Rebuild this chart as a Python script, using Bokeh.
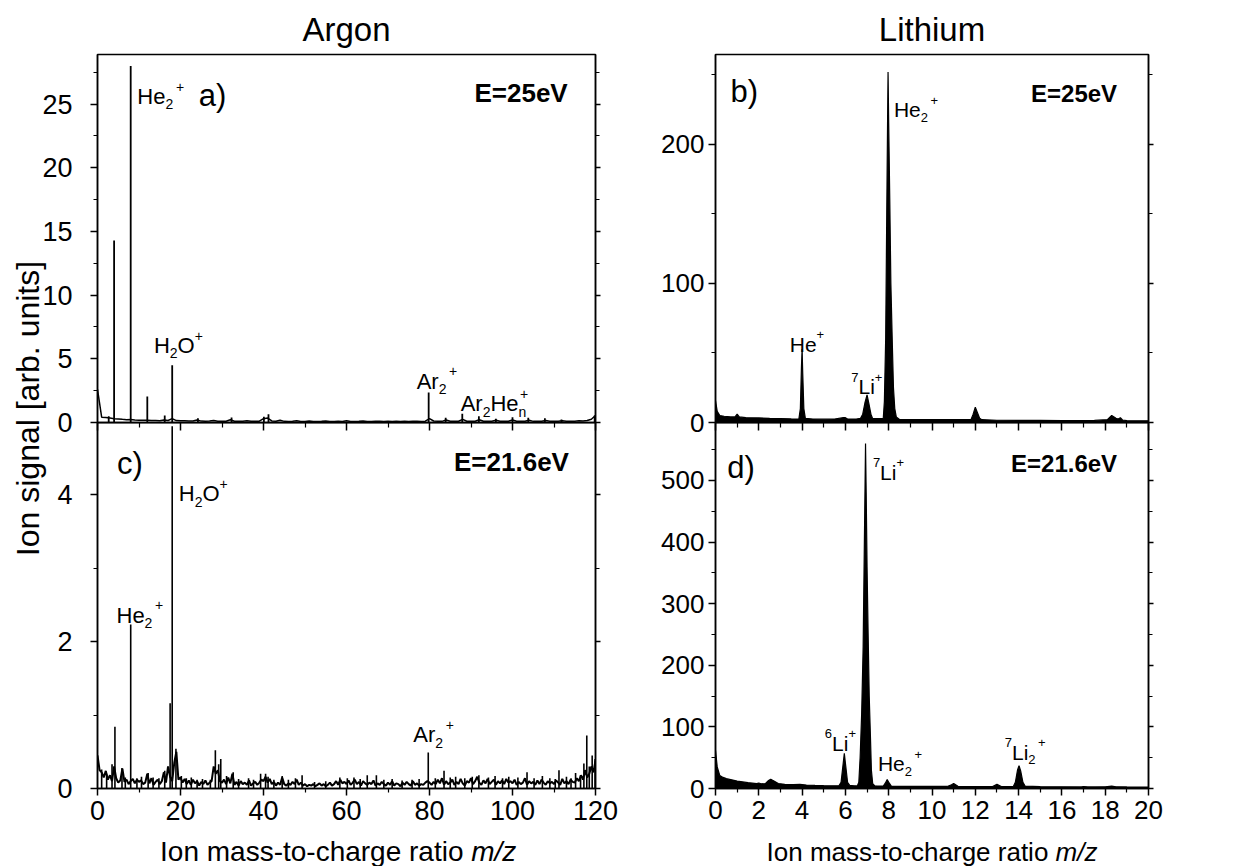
import numpy as np
from bokeh.plotting import figure
from bokeh.models import Range1d, FixedTicker, LinearAxis, Label, ColumnDataSource
from bokeh.layouts import row, column
from bokeh.embed import file_html
from bokeh.resources import INLINE
from bokeh.core.properties import value

FONT = "Liberation Sans"

# ------------------------------------------------------------------ data
# Panel a) Argon, E = 25 eV : baseline sampled every 1 m/z (0..120)
argon25_baseline = [
    2.6, 0.42, 0.40, 0.35, 0.30, 0.28, 0.25, 0.22, 0.24, 0.20,
    0.18, 0.17, 0.18, 0.15, 0.15, 0.14, 0.20, 0.16, 0.30, 0.15,
    0.14, 0.13, 0.12, 0.12, 0.20, 0.11, 0.10, 0.11, 0.16, 0.10,
    0.10, 0.10, 0.22, 0.10, 0.09, 0.10, 0.14, 0.09, 0.09, 0.10,
    0.30, 0.35, 0.12, 0.10, 0.18, 0.09, 0.08, 0.09, 0.14, 0.08,
    0.08, 0.12, 0.08, 0.08, 0.09, 0.12, 0.08, 0.08, 0.09, 0.08,
    0.14, 0.08, 0.08, 0.09, 0.12, 0.08, 0.08, 0.10, 0.09, 0.08,
    0.09, 0.08, 0.10, 0.08, 0.09, 0.08, 0.10, 0.09, 0.08, 0.10,
    0.30, 0.12, 0.10, 0.09, 0.20, 0.10, 0.09, 0.10, 0.25, 0.10,
    0.09, 0.10, 0.22, 0.10, 0.09, 0.10, 0.18, 0.10, 0.09, 0.10,
    0.20, 0.10, 0.09, 0.10, 0.18, 0.09, 0.10, 0.09, 0.16, 0.10,
    0.09, 0.10, 0.14, 0.09, 0.10, 0.10, 0.13, 0.12, 0.15, 0.25,
    0.55,
]
argon25_peak_mz = [2.7, 4.0, 8.0, 12.0, 16.2, 18.0, 24.2, 32.3, 40.1, 41.2,
                   79.8, 83.9, 87.9, 91.9, 96.0, 100.0, 103.8, 107.8, 111.8, 119.8]
argon25_peak_h = [0.5, 14.3, 28.0, 2.05, 0.55, 4.5, 0.34, 0.39, 0.45, 0.65,
                  2.35, 0.37, 0.68, 0.5, 0.29, 0.42, 0.37, 0.34, 0.24, 0.55]

# Panel c) Argon, E = 21.6 eV : baseline sampled every 0.5 m/z (0..120)
argon216_baseline = [
    0.45, 0.25, 0.22, 0.15, 0.24, 0.12, 0.18, 0.10, 0.30, 0.14, 0.08, 0.11, 0.27, 0.09, 0.12, 0.06, 0.10, 0.13, 0.07, 0.12,
    0.09, 0.11, 0.06, 0.08, 0.20, 0.07, 0.14, 0.05, 0.09, 0.12, 0.06, 0.10, 0.22, 0.08, 0.30, 0.16, 0.10, 0.35, 0.50, 0.12,
    0.15, 0.08, 0.13, 0.06, 0.11, 0.05, 0.12, 0.07, 0.10, 0.04, 0.09, 0.06, 0.11, 0.05, 0.08, 0.10, 0.30, 0.20, 0.25, 0.10,
    0.08, 0.12, 0.06, 0.15, 0.07, 0.20, 0.05, 0.09, 0.04, 0.10, 0.06, 0.08, 0.05, 0.11, 0.04, 0.07, 0.09, 0.05, 0.08, 0.12,
    0.10, 0.16, 0.08, 0.13, 0.06, 0.09, 0.04, 0.08, 0.05, 0.15, 0.06, 0.04, 0.07, 0.05, 0.09, 0.06, 0.12, 0.05, 0.08, 0.04,
    0.06, 0.03, 0.05, 0.04, 0.06, 0.03, 0.05, 0.07, 0.04, 0.06, 0.03, 0.05, 0.08, 0.04, 0.06, 0.10, 0.05, 0.12, 0.07, 0.09,
    0.06, 0.11, 0.05, 0.08, 0.12, 0.06, 0.09, 0.04, 0.10, 0.07, 0.05, 0.08, 0.06, 0.11, 0.04, 0.07, 0.05, 0.09, 0.06, 0.04,
    0.08, 0.05, 0.10, 0.04, 0.07, 0.06, 0.03, 0.08, 0.05, 0.09, 0.06, 0.04, 0.10, 0.05, 0.07, 0.04, 0.06, 0.05, 0.08, 0.10,
    0.08, 0.05, 0.09, 0.06, 0.12, 0.07, 0.14, 0.05, 0.10, 0.06, 0.08, 0.12, 0.05, 0.09, 0.06, 0.13, 0.07, 0.04, 0.10, 0.08,
    0.14, 0.06, 0.10, 0.16, 0.08, 0.05, 0.11, 0.07, 0.13, 0.06, 0.09, 0.12, 0.05, 0.10, 0.07, 0.11, 0.06, 0.13, 0.08, 0.10,
    0.07, 0.12, 0.05, 0.09, 0.06, 0.08, 0.14, 0.05, 0.10, 0.07, 0.09, 0.05, 0.11, 0.06, 0.12, 0.08, 0.05, 0.10, 0.07, 0.09,
    0.06, 0.11, 0.08, 0.05, 0.13, 0.07, 0.10, 0.06, 0.12, 0.09, 0.08, 0.14, 0.10, 0.18, 0.12, 0.25, 0.15, 0.20, 0.30, 0.22,
    0.38,
]
argon216_peak_mz = [1.0, 2.2, 3.5, 4.2, 5.9, 6.7, 8.0, 9.5, 10.6, 12.2, 13.4, 14.8, 16.2, 17.5, 18.0, 18.9,
                    20.2, 21.4, 22.6, 24.0, 25.3, 27.2, 28.4, 29.2, 29.7, 31.1, 32.7, 34.0, 36.4, 37.6,
                    39.3, 40.5, 41.1, 42.5, 44.5, 46.0, 47.7, 49.3, 52.3, 55.0, 58.4, 60.2, 61.8, 63.3,
                    65.0, 67.2, 69.0, 71.0, 73.4, 75.8, 77.5, 79.7, 81.4, 83.5, 85.0, 86.3, 88.5, 90.3,
                    91.9, 94.2, 95.8, 97.6, 99.1, 101.3, 103.5, 105.2, 107.2, 109.0, 110.3, 111.2, 113.0,
                    114.1, 115.2, 116.4, 117.2, 117.9, 118.5, 119.2, 119.9]
argon216_peak_h = [0.26, 0.20, 0.33, 0.84, 0.28, 0.15, 2.23, 0.14, 0.16, 0.21, 0.15, 0.14, 0.24, 1.16, 4.93, 0.54,
                   0.17, 0.14, 0.15, 0.12, 0.13, 0.12, 0.52, 0.33, 0.40, 0.17, 0.22, 0.13, 0.14, 0.12,
                   0.20, 0.20, 0.16, 0.12, 0.17, 0.12, 0.14, 0.18, 0.09, 0.10, 0.15, 0.14, 0.15, 0.13,
                   0.18, 0.18, 0.12, 0.13, 0.11, 0.12, 0.13, 0.49, 0.14, 0.24, 0.15, 0.16, 0.14, 0.16,
                   0.18, 0.15, 0.17, 0.14, 0.16, 0.15, 0.22, 0.14, 0.17, 0.14, 0.13, 0.25, 0.16,
                   0.14, 0.21, 0.18, 0.34, 0.72, 0.30, 0.45, 0.40]

# Panel b) Lithium, E = 25 eV
lithium25_mz = [0.0, 0.08, 0.2, 0.4, 0.7, 0.9, 1.0, 1.1, 1.4, 2.0, 2.5, 3.0, 3.5, 3.85, 3.92, 3.97, 4.0,
                4.03, 4.08, 4.15, 4.5, 5.0, 5.5, 5.9, 6.0, 6.1, 6.5, 6.7, 6.8, 6.9, 7.0, 7.08, 7.18, 7.25,
                7.5, 7.7, 7.75, 7.8, 7.86, 7.91, 7.95, 7.97, 8.0, 8.05, 8.1, 8.17, 8.22, 8.28, 8.35, 8.5,
                9.0, 10.0, 11.0, 11.8, 11.9, 12.0, 12.1, 12.2, 12.3, 13.0, 14.0, 15.0, 16.0, 17.0, 17.5,
                18.1, 18.3, 18.5, 18.6, 18.7, 18.8, 19.0, 19.5, 20.0]
lithium25_signal = [15.8, 8.0, 5.0, 4.5, 4.0, 4.0, 6.0, 4.0, 3.5, 3.3, 3.0, 2.8, 2.6, 2.5, 10.0, 40.0, 52.8,
                    35.0, 10.0, 3.0, 2.5, 2.4, 2.5, 3.5, 3.5, 2.5, 2.5, 3.0, 6.0, 14.0, 19.8, 14.0, 6.0, 3.0,
                    2.8, 2.8, 3.0, 15.0, 60.0, 150.0, 220.0, 252.0, 215.0, 160.0, 100.0, 55.0, 25.0, 10.0, 4.0, 2.2,
                    2.0, 2.0, 2.0, 2.0, 6.0, 11.0, 7.0, 3.0, 2.0, 1.6, 1.5, 1.5, 1.4, 1.4, 1.5,
                    2.0, 5.0, 3.0, 2.5, 3.5, 1.8, 1.3, 1.2, 1.2]

# Panel d) Lithium, E = 21.6 eV
lithium216_mz = [0.0, 0.08, 0.2, 0.35, 0.5, 0.75, 1.0, 1.5, 1.9, 2.0, 2.1, 2.3, 2.45, 2.55, 2.7, 2.9, 3.2,
                 3.6, 3.9, 4.2, 4.6, 5.0, 5.5, 5.7, 5.8, 5.88, 5.95, 6.02, 6.1, 6.2, 6.4, 6.55, 6.62, 6.68,
                 6.75, 6.82, 6.87, 6.91, 6.93, 6.96, 7.0, 7.05, 7.1, 7.16, 7.2, 7.26, 7.35, 7.5, 7.75, 7.85,
                 7.93, 8.02, 8.12, 8.5, 9.0, 10.0, 10.7, 10.9, 11.0, 11.2, 12.0, 12.8, 13.0, 13.2, 13.75,
                 13.85, 13.95, 14.02, 14.1, 14.2, 14.3, 15.0, 16.0, 16.9, 17.0, 17.2, 17.5, 18.0, 18.3,
                 18.5, 19.0, 20.0]
lithium216_signal = [62, 35, 21, 18, 16, 14, 12, 9.5, 8, 9, 7.6, 8, 13, 15, 12, 8, 6.8,
                     6.2, 6.8, 5.6, 5.0, 4.6, 4.3, 4.5, 10, 35, 57, 35, 10, 5, 4.3, 4.2, 10, 50,
                     120, 230, 380, 500, 560, 480, 360, 250, 150, 80, 30, 8, 4.5, 4.0, 4.0, 9,
                     14.6, 9, 4, 3.6, 3.4, 3.3, 3.3, 6, 8, 3.5, 3.2, 3.2, 7, 3.2, 3.0,
                     10, 30, 37, 28, 10, 4, 3.0, 2.8, 2.6, 3.2, 2.6, 2.6, 2.8, 4.0,
                     2.8, 2.6, 2.4]

# ticks
argon_x_major = [0, 20, 40, 60, 80, 100, 120]
argon_x_minor = [10, 30, 50, 70, 90, 110]
lith_x_major = [0, 2, 4, 6, 8, 10, 12, 14, 16, 18, 20]
lith_x_minor = [1, 3, 5, 7, 9, 11, 13, 15, 17, 19]
a_y_major = [0, 5, 10, 15, 20, 25]
a_y_minor = [2.5, 7.5, 12.5, 17.5, 22.5, 27.5]
b_y_major = [0, 100, 200]
b_y_minor = [50, 150, 250]
c_y_major = [0, 2, 4]
c_y_minor = [1, 3]
d_y_major = [0, 100, 200, 300, 400, 500]
d_y_minor = [50, 150, 250, 350, 450, 550]

assert len(argon25_baseline) == 121 and len(argon216_baseline) == 241
assert len(argon25_peak_mz) == len(argon25_peak_h)
assert len(argon216_peak_mz) == len(argon216_peak_h)
assert len(lithium25_mz) == len(lithium25_signal)
assert len(lithium216_mz) == len(lithium216_signal)

argon25_mz = np.arange(len(argon25_baseline)) * 1.0
argon216_mz = np.arange(len(argon216_baseline)) * 0.5

# ------------------------------------------------------------------ helpers
ADV = {'H': 722, 'e': 556, 'O': 778, 'A': 667, 'r': 333, 'L': 556, 'i': 222, 'n': 556, '+': 584,
       ' ': 278, 'I': 278, 'o': 556, 'm': 833, 'a': 556, 's': 500, '-': 333, 't': 278, 'c': 500,
       'h': 556, 'g': 556, '/': 278, 'z': 500}


def text_w(s, size):
    return sum(ADV.get(ch, 556) for ch in s) * size / 1000.0


def base_fig(w, h, xr, yr, bl, br, bt, bb):
    p = figure(width=w, height=h, x_range=xr, y_range=Range1d(*yr),
               output_backend="svg", toolbar_location=None, tools="",
               min_border_left=bl, min_border_right=br, min_border_top=bt, min_border_bottom=bb)
    p.xgrid.visible = False
    p.ygrid.visible = False
    p.background_fill_alpha = 0
    p.border_fill_alpha = 0
    p.outline_line_color = "black"
    p.outline_line_width = 1.5
    p.outline_line_alpha = 1.0
    return p


def style_axis(ax, ticks, minor, size, standoff, mj_out=7, mn_out=4, labels=True):
    ax.ticker = FixedTicker(ticks=ticks, minor_ticks=minor)
    ax.axis_line_color = "black"
    ax.axis_line_width = 1.5
    ax.major_tick_line_color = "black"
    ax.minor_tick_line_color = "black"
    ax.major_tick_line_width = 1.5
    ax.minor_tick_line_width = 1.2
    ax.major_tick_in = 0
    ax.minor_tick_in = 0
    ax.major_tick_out = mj_out
    ax.minor_tick_out = mn_out
    ax.major_label_standoff = standoff
    ax.major_label_text_font = FONT
    ax.major_label_text_color = "black"
    if labels:
        ax.major_label_text_font_size = f"{size}px"
    else:
        ax.major_label_text_font_size = "0px"
        ax.major_label_overrides = {t: "" for t in ticks}


def add_right_axis(p, ticks, minor):
    ax = LinearAxis()
    style_axis(ax, ticks, minor, 0, 0, mj_out=5, mn_out=4, labels=False)
    p.add_layout(ax, "right")


def add_peak_labels(p, specs, size, small):
    d = dict(x=[], y=[], text=[], xo=[], yo=[], fs=[])
    for (x, y, segs) in specs:
        cur = 0.0
        prev_start = 0.0
        prev_role = None
        for t, role in segs:
            if role == "n":
                f, dy, start = size, 0.0, cur
            elif role == "b":
                f, dy, start = small, 0.36 * size, cur
            elif role == "p":
                f, dy = small, -0.45 * size
                start = cur + (0.12 * size if prev_role == "b" else 0.0)
            else:  # "q": superscript stacked over the preceding subscript
                f, dy, start = small, -0.45 * size, prev_start + 0.1 * small
            d["x"].append(x)
            d["y"].append(y)
            d["text"].append(t)
            d["xo"].append(start)
            d["yo"].append(dy)
            d["fs"].append(f"{f}px")
            if role != "q":
                cur = start + text_w(t, f)
            prev_start = start
            prev_role = role
    p.text(x="x", y="y", text="text", x_offset="xo", y_offset="yo", text_font_size="fs",
           text_font=value(FONT), text_baseline="alphabetic", text_align="left",
           text_color="black", source=ColumnDataSource(d))


def add_text(p, x, y, t, size, align="left", bold=False):
    p.text(x=[x], y=[y], text=[t], text_font=value(FONT), text_font_size=f"{size}px",
           text_font_style="bold" if bold else "normal", text_align=align,
           text_baseline="alphabetic", text_color="black")


def xlabel_strip(width, bl, br, x_range, xc, size):
    s = figure(width=width, height=STRIP_H, x_range=x_range, y_range=Range1d(0, STRIP_H),
               output_backend="svg", toolbar_location=None, tools="",
               min_border_left=bl, min_border_right=br, min_border_top=0, min_border_bottom=0,
               x_axis_location=None, y_axis_location=None)
    s.grid.visible = False
    s.outline_line_color = None
    s.background_fill_alpha = 0
    s.border_fill_alpha = 0
    part1 = "Ion mass-to-charge ratio "
    part2 = "m/z"
    w1 = text_w(part1, size)
    w2 = text_w(part2, size)
    start = -(w1 + w2) / 2.0
    s.add_layout(Label(x=xc, y=15, x_offset=start, text=part1, text_font=FONT,
                       text_font_size=f"{size}px", text_align="left", text_baseline="alphabetic",
                       text_color="black"))
    s.add_layout(Label(x=xc, y=15, x_offset=start + w1, text=part2, text_font=FONT,
                       text_font_size=f"{size}px", text_font_style="italic", text_align="left",
                       text_baseline="alphabetic", text_color="black"))
    s.margin = (-STRIP_H, 0, 0, 0)
    return s


def style_title(p, text):
    p.title.text = text
    p.title.text_font = FONT
    p.title.text_font_size = "33px"
    p.title.text_font_style = "normal"
    p.title.text_color = "black"
    p.title.align = "center"
    p.title.standoff = 14


# ------------------------------------------------------------------ layout sizes
LBL_W = 52
LBL_OVERLAP = 14
LEFT_W, RIGHT_W = 613, 527
TOP_H, BOT_H = 438, 444
OVER = 16
STRIP_H = 40

argon_x = Range1d(0, 120)
lith_x = Range1d(0, 20)

# ---------------- panel a
pa = base_fig(LEFT_W, TOP_H, argon_x, (0, 28.9), 59, 56, 54, OVER)
style_title(pa, "Argon")
style_axis(pa.yaxis[0], a_y_major, a_y_minor, 27, 18)
style_axis(pa.xaxis[0], argon_x_major, argon_x_minor, 0, 0, mj_out=8, mn_out=5, labels=False)
add_right_axis(pa, a_y_major, a_y_minor)
pa.line(argon25_mz, argon25_baseline, line_color="black", line_width=1.5)
pa.segment(x0=argon25_peak_mz, y0=[0] * len(argon25_peak_mz), x1=argon25_peak_mz, y1=argon25_peak_h,
           line_color="black", line_width=1.8)
add_peak_labels(pa, [
    (9.6, 25.6, [("He", "n"), ("2", "b"), ("+", "p")]),
    (13.6, 6.05, [("H", "n"), ("2", "b"), ("O", "n"), ("+", "p")]),
    (76.9, 3.25, [("Ar", "n"), ("2", "b"), ("+", "p")]),
    (87.5, 1.47, [("Ar", "n"), ("2", "b"), ("He", "n"), ("n", "b"), ("+", "q")]),
], 22, 14)
add_text(pa, 24.4, 25.7, "a)", 31)
add_text(pa, 113.3, 25.9, "E=25eV", 26, align="right", bold=True)

# ---------------- panel c
pc = base_fig(LEFT_W, BOT_H, argon_x, (0, 4.98), 59, 56, 0, BOT_H - 366)
pc.margin = (-OVER, 0, 0, 0)
style_axis(pc.yaxis[0], c_y_major, c_y_minor, 27, 18)
style_axis(pc.xaxis[0], argon_x_major, argon_x_minor, 27, 5, mj_out=7, mn_out=4)
add_right_axis(pc, c_y_major, c_y_minor)
pc.line(argon216_mz, argon216_baseline, line_color="black", line_width=2.0)
pc.segment(x0=argon216_peak_mz, y0=[0] * len(argon216_peak_mz), x1=argon216_peak_mz, y1=argon216_peak_h,
           line_color="black", line_width=1.6)
add_peak_labels(pc, [
    (19.6, 4.01, [("H", "n"), ("2", "b"), ("O", "n"), ("+", "p")]),
    (4.58, 2.36, [("He", "n"), ("2", "b"), ("+", "p")]),
    (76.1, 0.73, [("Ar", "n"), ("2", "b"), ("+", "p")]),
], 22, 14)
add_text(pc, 4.7, 4.42, "c)", 31)
add_text(pc, 113.6, 4.44, "E=21.6eV", 26, align="right", bold=True)
sc = xlabel_strip(LEFT_W, 59, 56, argon_x, 58, 28)

# ---------------- panel b
pb = base_fig(RIGHT_W, TOP_H, lith_x, (0, 264.5), 64, 30, 54, OVER)
style_title(pb, "Lithium")
style_axis(pb.yaxis[0], b_y_major, b_y_minor, 26, 4)
style_axis(pb.xaxis[0], lith_x_major, lith_x_minor, 0, 0, mj_out=8, mn_out=5, labels=False)
add_right_axis(pb, b_y_major, b_y_minor)
pb.varea(x=lithium25_mz, y1=[0] * len(lithium25_mz), y2=lithium25_signal, fill_color="black")
pb.line(lithium25_mz, lithium25_signal, line_color="black", line_width=1.2)
add_peak_labels(pb, [
    (3.43, 56.4, [("He", "n"), ("+", "p")]),
    (6.27, 25.8, [("7", "p"), ("Li", "n"), ("+", "p")]),
    (8.24, 224.9, [("He", "n"), ("2", "b"), ("+", "p")]),
], 21, 13)
add_text(pb, 0.69, 238, "b)", 31)
add_text(pb, 18.55, 236.8, "E=25eV", 24, align="right", bold=True)

# ---------------- panel d
pd_ = base_fig(RIGHT_W, BOT_H, lith_x, (0, 594), 64, 30, 0, BOT_H - 366)
pd_.margin = (-OVER, 0, 0, 0)
style_axis(pd_.yaxis[0], d_y_major, d_y_minor, 26, 4)
style_axis(pd_.xaxis[0], lith_x_major, lith_x_minor, 26, 5, mj_out=7, mn_out=4)
add_right_axis(pd_, d_y_major, d_y_minor)
pd_.varea(x=lithium216_mz, y1=[0] * len(lithium216_mz), y2=lithium216_signal, fill_color="black")
pd_.line(lithium216_mz, lithium216_signal, line_color="black", line_width=1.2)
add_peak_labels(pd_, [
    (7.27, 513.5, [("7", "p"), ("Li", "n"), ("+", "p")]),
    (5.05, 73.6, [("6", "p"), ("Li", "n"), ("+", "p")]),
    (7.5, 40, [("He", "n"), ("2", "b"), ("+", "p")]),
    (13.36, 59, [("7", "p"), ("Li", "n"), ("2", "b"), ("+", "p")]),
], 21, 13)
add_text(pd_, 0.54, 521, "d)", 31)
add_text(pd_, 18.55, 527, "E=21.6eV", 24, align="right", bold=True)
sd = xlabel_strip(RIGHT_W, 64, 30, lith_x, 10, 26)

# ---------------- shared y label
TOTAL_H = TOP_H - OVER + BOT_H
pl = figure(width=LBL_W, height=TOTAL_H, x_range=Range1d(0, LBL_W), y_range=Range1d(0, TOTAL_H),
            output_backend="svg", toolbar_location=None, tools="", min_border=0,
            x_axis_location=None, y_axis_location=None)
pl.grid.visible = False
pl.outline_line_color = None
pl.background_fill_alpha = 0
pl.border_fill_alpha = 0
pl.margin = (0, -LBL_OVERLAP, 0, 0)
pl.add_layout(Label(x=27, y=TOTAL_H - 408, text="Ion signal [arb. units]", angle=np.pi / 2,
                    text_font=FONT, text_font_size="32px", text_align="center",
                    text_baseline="middle", text_color="black"))

layout = row(pl, column(pa, pc, sc), column(pb, pd_, sd))
open("out.html", "w").write(file_html(layout, INLINE))
